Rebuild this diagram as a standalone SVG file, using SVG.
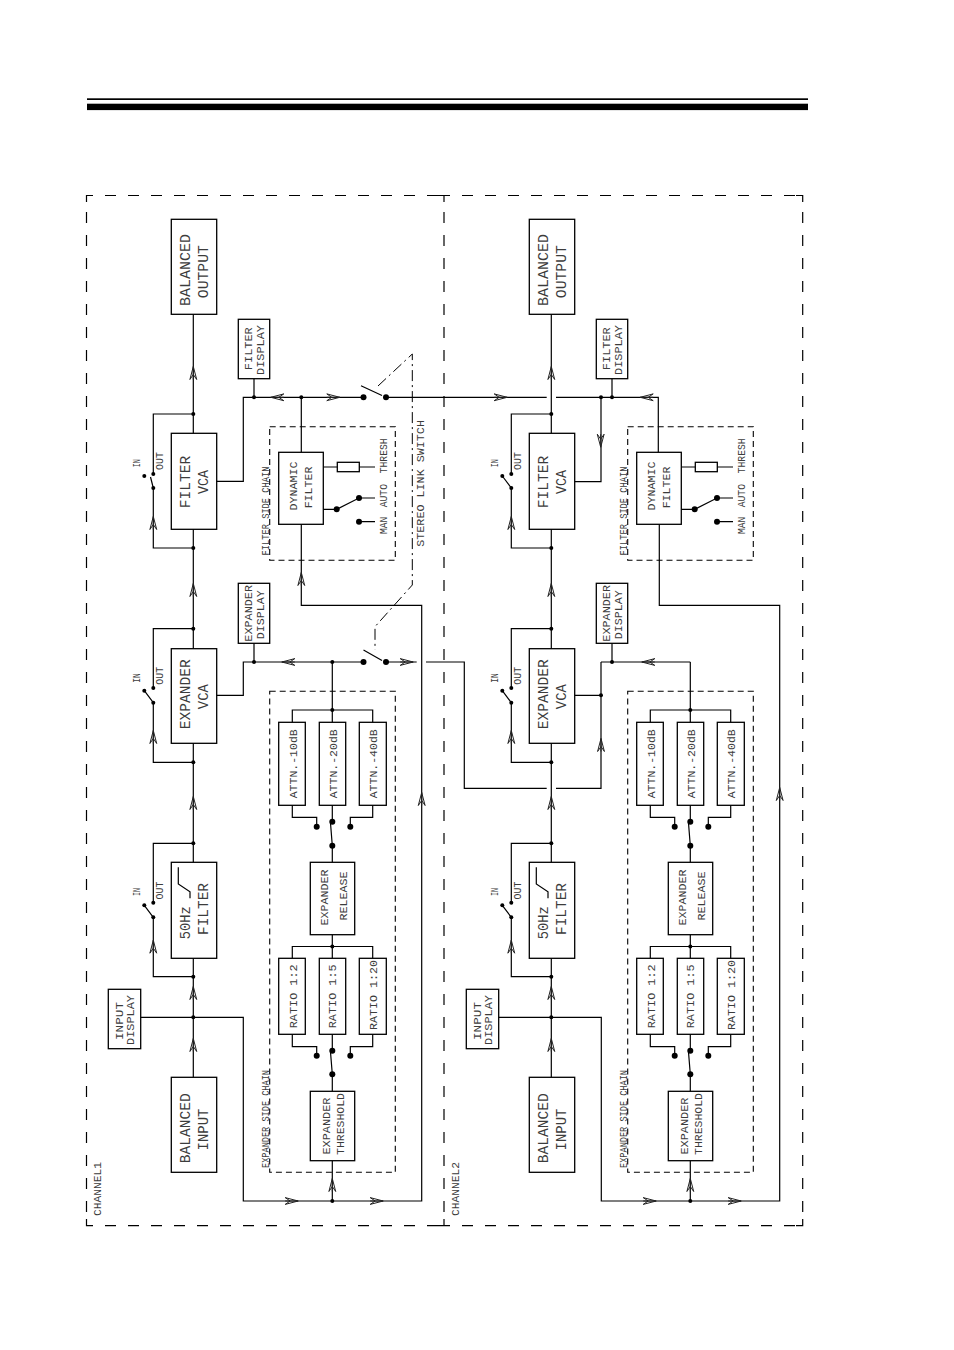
<svg xmlns="http://www.w3.org/2000/svg" width="954" height="1350" viewBox="0 0 954 1350">
<style>
text{font-family:"Liberation Mono","DejaVu Sans Mono",monospace;fill:#3c3c3c;text-anchor:middle}
.l{font-size:15px}.m{font-size:11.5px}.s{font-size:10px}
.box{fill:none;stroke:#000;stroke-width:1.3}
.w{fill:none;stroke:#000;stroke-width:1.2}
.a{fill:none;stroke:#222;stroke-width:1}
.d{fill:#000}
.o{fill:none;stroke:#000;stroke-width:1.2;stroke-dasharray:11 12}
.i{fill:none;stroke:#000;stroke-width:1.1;stroke-dasharray:6 4}
.k{fill:none;stroke:#000;stroke-width:1;stroke-dasharray:11 4 2 4}
</style>
<defs>
<path id="arr" d="M0-6.5L-3.4 6.5L0 1.5L3.4 6.5ZM0-6.5V6.5"/>
</defs>
<g id="header"><rect x="87" y="98.3" width="721" height="1.7"/><rect x="87" y="103.7" width="721" height="6.4"/></g>
<g id="frames">
<path class="o" d="M105 195.5H444"/><path class="w" d="M93 195.5H86.5V202"/><path class="o" d="M86.5 212V1218"/><path class="w" d="M86.5 1219V1225.6H93"/><path class="o" d="M105 1225.6H444"/>
<path class="o" d="M444 212V1218"/><path class="w" d="M438 195.5H450M444 195.5V202M438 1225.6H450M444 1225.6V1219"/>
<path class="o" d="M462 195.5H795"/><path class="w" d="M796 195.5H802.7V202M802.7 1219V1225.6H796"/><path class="o" d="M802.7 212V1218"/><path class="o" d="M462 1225.6H795"/>
<text class="m" lengthAdjust="spacingAndGlyphs" transform="translate(100.7 1189) rotate(-90)" textLength="54">CHANNEL1</text>
<text class="m" lengthAdjust="spacingAndGlyphs" transform="translate(458.7 1189) rotate(-90)" textLength="54">CHANNEL2</text>
</g>
<g id="connectors">
<g id="ch1-wires">
<path class="w" d="M193.3 314.3V433.3M193.3 529.3V648.7M193.3 743.3V862.3M193.3 958.3V1077.3"/>
<path class="w" d="M193.3 414H153.3V474M153.3 488V548H193.3"/>
<path class="w" d="M193.3 628.7H153.3V688M153.3 702.7V762.3H193.3"/>
<path class="w" d="M193.3 843.3H153.3V902.7M153.3 917.3V976.7H193.3"/>
<path class="w" d="M153.3 488L150.5 477M153.3 702.7L144.3 690.7M153.3 917.3L144.3 905.3"/>
<path class="w" d="M216.7 481.3H243.3V397.3H363.3M254 397.3V378.7M301.3 397.3V452.3"/>
<path class="w" d="M216.7 695.3H243.3V662H363.3M254 662V643.3M332.3 662V722.3"/>
<path class="w" d="M386 397.3H546.7M556 397.3H658.3V452.3M386 662H416.7M426 662H464.3V788.3H546.7M556 788.3H601V662"/>
<path class="w" d="M361 385.7L382 395.5M363.5 650L382 660.5"/>
<path class="w" d="M140.7 1017.3H243.3V1201H421.7V605.3H301.3V524.3"/>
<path class="w" d="M332.3 1160.7V1201"/>
<path class="w" d="M292.3 722.3V710H372.7V722.3M292.3 805.3V817.3H316.7V826.7M332.3 805.3V821.7M372.7 805.3V817.3H350.3V826.7"/>
<path class="w" d="M330.5 823L332.3 845.7V862.3M332.3 934.7V958.3M292.3 958.3V946.5H372.7V958.3"/>
<path class="w" d="M292.3 1034.3V1046.7H316.7V1055.7M332.3 1034.3V1050.7M372.7 1034.3V1046.7H350.3V1055.7"/>
<path class="w" d="M330.5 1052L332.3 1074.3V1091.3"/>
<path class="w" d="M323.3 467H337.3M359.3 467H375M323.3 509.3H336.7L359 498H375M359 521.7H375"/>
<path class="k" d="M378 386L412.3 354V585L375 626.7V650"/>
</g>
<g id="ch2-wires" transform="translate(358 0)">
<path class="w" d="M193.3 314.3V433.3M193.3 529.3V648.7M193.3 743.3V862.3M193.3 958.3V1077.3"/>
<path class="w" d="M193.3 414H153.3V474M153.3 488V548H193.3"/>
<path class="w" d="M193.3 628.7H153.3V688M153.3 702.7V762.3H193.3"/>
<path class="w" d="M193.3 843.3H153.3V902.7M153.3 917.3V976.7H193.3"/>
<path class="w" d="M153.3 488L144.3 476M153.3 702.7L144.3 690.7M153.3 917.3L144.3 905.3"/>
<path class="w" d="M216.7 481.7H243V397.3M254 397.3V378.7"/>
<path class="w" d="M216.7 695.3H243M254 662V643.3M332.3 662V722.3M243 662H332.3"/>
<path class="w" d="M140.7 1017.3H243.3V1201H421.7V605.3H301.3V524.3"/>
<path class="w" d="M332.3 1160.7V1201"/>
<path class="w" d="M292.3 722.3V710H372.7V722.3M292.3 805.3V817.3H316.7V826.7M332.3 805.3V821.7M372.7 805.3V817.3H350.3V826.7"/>
<path class="w" d="M330.5 823L332.3 845.7V862.3M332.3 934.7V958.3M292.3 958.3V946.5H372.7V958.3"/>
<path class="w" d="M292.3 1034.3V1046.7H316.7V1055.7M332.3 1034.3V1050.7M372.7 1034.3V1046.7H350.3V1055.7"/>
<path class="w" d="M330.5 1052L332.3 1074.3V1091.3"/>
<path class="w" d="M323.3 467H337.3M359.3 467H375M323.3 509.3H336.7L359 498H375M359 521.7H375"/>
</g>
<g id="dots" class="d">
<circle cx="193.3" cy="414" r="2"/><circle cx="193.3" cy="548" r="2"/><circle cx="193.3" cy="628.7" r="2"/><circle cx="193.3" cy="762.3" r="2"/><circle cx="193.3" cy="843.3" r="2"/><circle cx="193.3" cy="976.7" r="2"/><circle cx="193.3" cy="1017.3" r="2"/>
<circle cx="153.3" cy="474" r="2"/><circle cx="153.3" cy="488" r="2"/><circle cx="144.3" cy="476" r="2"/>
<circle cx="153.3" cy="688" r="2"/><circle cx="153.3" cy="702.7" r="2"/><circle cx="144.3" cy="690.7" r="2"/>
<circle cx="153.3" cy="902.7" r="2"/><circle cx="153.3" cy="917.3" r="2"/><circle cx="144.3" cy="905.3" r="2"/>
<circle cx="254" cy="397.3" r="2"/><circle cx="301.3" cy="397.3" r="2"/><circle cx="254" cy="662" r="2"/><circle cx="332.3" cy="662" r="2"/><circle cx="332.3" cy="710" r="2"/><circle cx="332.3" cy="946.5" r="2"/><circle cx="332.3" cy="1201" r="2"/>
<circle cx="363.5" cy="397.3" r="3"/><circle cx="386" cy="397.3" r="3"/><circle cx="363.5" cy="662" r="3"/><circle cx="386" cy="662" r="3"/>
<circle cx="336.7" cy="509.3" r="3"/><circle cx="359" cy="498" r="3"/><circle cx="359" cy="521.7" r="3"/>
<circle cx="316.7" cy="826.7" r="3"/><circle cx="332.3" cy="821.7" r="3"/><circle cx="350.3" cy="826.7" r="3"/><circle cx="332.3" cy="845.7" r="3"/>
<circle cx="316.7" cy="1055.7" r="3"/><circle cx="332.3" cy="1050.7" r="3"/><circle cx="350.3" cy="1055.7" r="3"/><circle cx="332.3" cy="1074.3" r="3"/>
<g transform="translate(358 0)">
<circle cx="193.3" cy="414" r="2"/><circle cx="193.3" cy="548" r="2"/><circle cx="193.3" cy="628.7" r="2"/><circle cx="193.3" cy="762.3" r="2"/><circle cx="193.3" cy="843.3" r="2"/><circle cx="193.3" cy="976.7" r="2"/><circle cx="193.3" cy="1017.3" r="2"/>
<circle cx="153.3" cy="474" r="2"/><circle cx="153.3" cy="488" r="2"/><circle cx="144.3" cy="476" r="2"/>
<circle cx="153.3" cy="688" r="2"/><circle cx="153.3" cy="702.7" r="2"/><circle cx="144.3" cy="690.7" r="2"/>
<circle cx="153.3" cy="902.7" r="2"/><circle cx="153.3" cy="917.3" r="2"/><circle cx="144.3" cy="905.3" r="2"/>
<circle cx="243" cy="397.3" r="2"/><circle cx="254" cy="397.3" r="2"/><circle cx="243" cy="695.3" r="2"/><circle cx="254" cy="662" r="2"/><circle cx="332.3" cy="710" r="2"/><circle cx="332.3" cy="946.5" r="2"/><circle cx="332.3" cy="1201" r="2"/>
<circle cx="336.7" cy="509.3" r="3"/><circle cx="359" cy="498" r="3"/><circle cx="359" cy="521.7" r="3"/>
<circle cx="316.7" cy="826.7" r="3"/><circle cx="332.3" cy="821.7" r="3"/><circle cx="350.3" cy="826.7" r="3"/><circle cx="332.3" cy="845.7" r="3"/>
<circle cx="316.7" cy="1055.7" r="3"/><circle cx="332.3" cy="1050.7" r="3"/><circle cx="350.3" cy="1055.7" r="3"/><circle cx="332.3" cy="1074.3" r="3"/>
</g>
</g>
<g id="arrows" class="a">
<use href="#arr" transform="translate(193.3 373)"/><use href="#arr" transform="translate(193.3 590)"/><use href="#arr" transform="translate(193.3 803)"/><use href="#arr" transform="translate(193.3 993)"/><use href="#arr" transform="translate(193.3 1045)"/>
<use href="#arr" transform="translate(153.3 523)"/><use href="#arr" transform="translate(153.3 737)"/><use href="#arr" transform="translate(153.3 946.7)"/>
<use href="#arr" transform="translate(277.3 397.3) rotate(-90)"/><use href="#arr" transform="translate(333.3 397.3) rotate(90)"/><use href="#arr" transform="translate(288.3 662) rotate(-90)"/><use href="#arr" transform="translate(406.7 662) rotate(90)"/>
<use href="#arr" transform="translate(301.3 579)"/><use href="#arr" transform="translate(421.7 799)"/><use href="#arr" transform="translate(332.3 1185)"/>
<use href="#arr" transform="translate(291.7 1201) rotate(90)"/><use href="#arr" transform="translate(376.7 1201) rotate(90)"/>
<use href="#arr" transform="translate(500.7 397.3) rotate(90)"/><use href="#arr" transform="translate(600.7 440.7) rotate(180)"/><use href="#arr" transform="translate(601 745)"/><use href="#arr" transform="translate(646.7 397.3) rotate(-90)"/><use href="#arr" transform="translate(648.3 662) rotate(-90)"/>
<use href="#arr" transform="translate(551.3 373)"/><use href="#arr" transform="translate(551.3 590)"/><use href="#arr" transform="translate(551.3 803)"/><use href="#arr" transform="translate(551.3 993)"/><use href="#arr" transform="translate(551.3 1045)"/>
<use href="#arr" transform="translate(511.3 523)"/><use href="#arr" transform="translate(511.3 737)"/><use href="#arr" transform="translate(511.3 946.7)"/>
<use href="#arr" transform="translate(779.7 794)"/><use href="#arr" transform="translate(690.3 1185)"/><use href="#arr" transform="translate(649.7 1201) rotate(90)"/><use href="#arr" transform="translate(734.7 1201) rotate(90)"/>
</g>
<g id="stereo-label"><text class="m" lengthAdjust="spacingAndGlyphs" transform="translate(424 483.4) rotate(-90)" textLength="126.7">STEREO LINK SWITCH</text></g>
</g>
<g id="ch1-balanced-output"><rect class="box" x="171.3" y="219.3" width="45.4" height="95"/><text class="l" lengthAdjust="spacingAndGlyphs" transform="translate(190 270) rotate(-90)" textLength="72">BALANCED</text><text class="l" lengthAdjust="spacingAndGlyphs" transform="translate(208.3 271.7) rotate(-90)" textLength="53">OUTPUT</text></g>
<g id="ch1-filter-display"><rect class="box" x="238.3" y="319.3" width="31.4" height="59.4"/><text class="m" lengthAdjust="spacingAndGlyphs" transform="translate(252.4 348.7) rotate(-90)" textLength="43">FILTER</text><text class="m" lengthAdjust="spacingAndGlyphs" transform="translate(264 350) rotate(-90)" textLength="50">DISPLAY</text></g>
<g id="ch1-filter-vca"><rect class="box" x="171.3" y="433.3" width="45.4" height="96"/><text class="l" lengthAdjust="spacingAndGlyphs" transform="translate(190 482) rotate(-90)" textLength="52.6">FILTER</text><text class="l" lengthAdjust="spacingAndGlyphs" transform="translate(208.3 482) rotate(-90)" textLength="24">VCA</text></g>
<g id="ch1-filter-switch"><text class="s" lengthAdjust="spacingAndGlyphs" transform="translate(140 463.3) rotate(-90)" textLength="8">IN</text><text class="s" lengthAdjust="spacingAndGlyphs" transform="translate(162.7 461) rotate(-90)" textLength="18">OUT</text></g>
<g id="ch1-expander-display"><rect class="box" x="238.3" y="583.3" width="31.4" height="60"/><text class="m" lengthAdjust="spacingAndGlyphs" transform="translate(252.4 613.3) rotate(-90)" textLength="56.7">EXPANDER</text><text class="m" lengthAdjust="spacingAndGlyphs" transform="translate(264 614.7) rotate(-90)" textLength="49">DISPLAY</text></g>
<g id="ch1-expander-vca"><rect class="box" x="171.3" y="648.7" width="45.4" height="94.6"/><text class="l" lengthAdjust="spacingAndGlyphs" transform="translate(190 694.3) rotate(-90)" textLength="70">EXPANDER</text><text class="l" lengthAdjust="spacingAndGlyphs" transform="translate(208.3 696.7) rotate(-90)" textLength="25">VCA</text></g>
<g id="ch1-expander-switch"><text class="s" lengthAdjust="spacingAndGlyphs" transform="translate(140 678) rotate(-90)" textLength="9.4">IN</text><text class="s" lengthAdjust="spacingAndGlyphs" transform="translate(162.7 675.8) rotate(-90)" textLength="18">OUT</text></g>
<g id="ch1-50hz-filter"><rect class="box" x="171.3" y="862.3" width="45.4" height="96"/><path class="w" d="M178.3 867.3V884L190 891.7V898.3"/><text class="l" lengthAdjust="spacingAndGlyphs" transform="translate(190 922.7) rotate(-90)" textLength="33">50Hz</text><text class="l" lengthAdjust="spacingAndGlyphs" transform="translate(208.3 909) rotate(-90)" textLength="52">FILTER</text></g>
<g id="ch1-50hz-switch"><text class="s" lengthAdjust="spacingAndGlyphs" transform="translate(140 892) rotate(-90)" textLength="8">IN</text><text class="s" lengthAdjust="spacingAndGlyphs" transform="translate(162.7 890.5) rotate(-90)" textLength="18">OUT</text></g>
<g id="ch1-input-display"><rect class="box" x="108.3" y="989.3" width="32.4" height="59.4"/><text class="m" lengthAdjust="spacingAndGlyphs" transform="translate(122.7 1021) rotate(-90)" textLength="38">INPUT</text><text class="m" lengthAdjust="spacingAndGlyphs" transform="translate(134 1020) rotate(-90)" textLength="50">DISPLAY</text></g>
<g id="ch1-balanced-input"><rect class="box" x="171.3" y="1077.3" width="45.4" height="95"/><text class="l" lengthAdjust="spacingAndGlyphs" transform="translate(190 1128.3) rotate(-90)" textLength="70">BALANCED</text><text class="l" lengthAdjust="spacingAndGlyphs" transform="translate(208.3 1129.5) rotate(-90)" textLength="42">INPUT</text></g>
<g id="ch1-filter-side-chain"><rect class="i" x="269.7" y="426.7" width="125.6" height="133.6"/><text class="s" lengthAdjust="spacingAndGlyphs" transform="translate(269 511) rotate(-90)" textLength="89">FILTER SIDE CHAIN</text></g>
<g id="ch1-dynamic-filter"><rect class="box" x="278.7" y="452.3" width="44.6" height="72"/><text class="m" lengthAdjust="spacingAndGlyphs" transform="translate(297 486) rotate(-90)" textLength="49">DYNAMIC</text><text class="m" lengthAdjust="spacingAndGlyphs" transform="translate(312 487.5) rotate(-90)" textLength="41.7">FILTER</text></g>
<g id="ch1-thresh-resistor"><rect class="box" x="337.3" y="462.3" width="22" height="9.4"/><text class="s" lengthAdjust="spacingAndGlyphs" transform="translate(386.7 455.8) rotate(-90)" textLength="35">THRESH</text><text class="s" lengthAdjust="spacingAndGlyphs" transform="translate(386.7 495.7) rotate(-90)" textLength="23.3">AUTO</text><text class="s" lengthAdjust="spacingAndGlyphs" transform="translate(386.7 525.3) rotate(-90)" textLength="17.3">MAN</text></g>
<g id="ch1-expander-side-chain"><rect class="i" x="269.7" y="691.3" width="125.6" height="481"/><text class="s" lengthAdjust="spacingAndGlyphs" transform="translate(269 1119) rotate(-90)" textLength="98">EXPANDER SIDE CHAIN</text></g>
<g id="ch1-attn-10"><rect class="box" x="278.7" y="722.3" width="26.6" height="83"/><text class="m" lengthAdjust="spacingAndGlyphs" transform="translate(296.5 763.8) rotate(-90)" textLength="69">ATTN.-10dB</text></g>
<g id="ch1-attn-20"><rect class="box" x="319.3" y="722.3" width="26.4" height="83"/><text class="m" lengthAdjust="spacingAndGlyphs" transform="translate(336.7 763.8) rotate(-90)" textLength="69">ATTN.-20dB</text></g>
<g id="ch1-attn-40"><rect class="box" x="359.3" y="722.3" width="27" height="83"/><text class="m" lengthAdjust="spacingAndGlyphs" transform="translate(377 763.8) rotate(-90)" textLength="69">ATTN.-40dB</text></g>
<g id="ch1-expander-release"><rect class="box" x="310.3" y="862.3" width="44.4" height="72.4"/><text class="m" lengthAdjust="spacingAndGlyphs" transform="translate(328 897.5) rotate(-90)" textLength="56">EXPANDER</text><text class="m" lengthAdjust="spacingAndGlyphs" transform="translate(346.7 896) rotate(-90)" textLength="49">RELEASE</text></g>
<g id="ch1-ratio-2"><rect class="box" x="278.7" y="958.3" width="26.6" height="76"/><text class="m" lengthAdjust="spacingAndGlyphs" transform="translate(296.5 996.3) rotate(-90)" textLength="64">RATIO 1:2</text></g>
<g id="ch1-ratio-5"><rect class="box" x="319.3" y="958.3" width="26.4" height="76"/><text class="m" lengthAdjust="spacingAndGlyphs" transform="translate(335.7 996.3) rotate(-90)" textLength="64">RATIO 1:5</text></g>
<g id="ch1-ratio-20"><rect class="box" x="359.3" y="958.3" width="27" height="76"/><text class="m" lengthAdjust="spacingAndGlyphs" transform="translate(377 995) rotate(-90)" textLength="70">RATIO 1:20</text></g>
<g id="ch1-expander-threshold"><rect class="box" x="310.3" y="1091.3" width="44.4" height="69.4"/><text class="m" lengthAdjust="spacingAndGlyphs" transform="translate(330.3 1126) rotate(-90)" textLength="57">EXPANDER</text><text class="m" lengthAdjust="spacingAndGlyphs" transform="translate(344 1124) rotate(-90)" textLength="62">THRESHOLD</text></g>
<g id="ch2-balanced-output" transform="translate(358 0)"><rect class="box" x="171.3" y="219.3" width="45.4" height="95"/><text class="l" lengthAdjust="spacingAndGlyphs" transform="translate(190 270) rotate(-90)" textLength="72">BALANCED</text><text class="l" lengthAdjust="spacingAndGlyphs" transform="translate(208.3 271.7) rotate(-90)" textLength="53">OUTPUT</text></g>
<g id="ch2-filter-display" transform="translate(358 0)"><rect class="box" x="238.3" y="319.3" width="31.4" height="59.4"/><text class="m" lengthAdjust="spacingAndGlyphs" transform="translate(252.4 348.7) rotate(-90)" textLength="43">FILTER</text><text class="m" lengthAdjust="spacingAndGlyphs" transform="translate(264 350) rotate(-90)" textLength="50">DISPLAY</text></g>
<g id="ch2-filter-vca" transform="translate(358 0)"><rect class="box" x="171.3" y="433.3" width="45.4" height="96"/><text class="l" lengthAdjust="spacingAndGlyphs" transform="translate(190 482) rotate(-90)" textLength="52.6">FILTER</text><text class="l" lengthAdjust="spacingAndGlyphs" transform="translate(208.3 482) rotate(-90)" textLength="24">VCA</text></g>
<g id="ch2-filter-switch" transform="translate(358 0)"><text class="s" lengthAdjust="spacingAndGlyphs" transform="translate(140 463.3) rotate(-90)" textLength="8">IN</text><text class="s" lengthAdjust="spacingAndGlyphs" transform="translate(162.7 461) rotate(-90)" textLength="18">OUT</text></g>
<g id="ch2-expander-display" transform="translate(358 0)"><rect class="box" x="238.3" y="583.3" width="31.4" height="60"/><text class="m" lengthAdjust="spacingAndGlyphs" transform="translate(252.4 613.3) rotate(-90)" textLength="56.7">EXPANDER</text><text class="m" lengthAdjust="spacingAndGlyphs" transform="translate(264 614.7) rotate(-90)" textLength="49">DISPLAY</text></g>
<g id="ch2-expander-vca" transform="translate(358 0)"><rect class="box" x="171.3" y="648.7" width="45.4" height="94.6"/><text class="l" lengthAdjust="spacingAndGlyphs" transform="translate(190 694.3) rotate(-90)" textLength="70">EXPANDER</text><text class="l" lengthAdjust="spacingAndGlyphs" transform="translate(208.3 696.7) rotate(-90)" textLength="25">VCA</text></g>
<g id="ch2-expander-switch" transform="translate(358 0)"><text class="s" lengthAdjust="spacingAndGlyphs" transform="translate(140 678) rotate(-90)" textLength="9.4">IN</text><text class="s" lengthAdjust="spacingAndGlyphs" transform="translate(162.7 675.8) rotate(-90)" textLength="18">OUT</text></g>
<g id="ch2-50hz-filter" transform="translate(358 0)"><rect class="box" x="171.3" y="862.3" width="45.4" height="96"/><path class="w" d="M178.3 867.3V884L190 891.7V898.3"/><text class="l" lengthAdjust="spacingAndGlyphs" transform="translate(190 922.7) rotate(-90)" textLength="33">50Hz</text><text class="l" lengthAdjust="spacingAndGlyphs" transform="translate(208.3 909) rotate(-90)" textLength="52">FILTER</text></g>
<g id="ch2-50hz-switch" transform="translate(358 0)"><text class="s" lengthAdjust="spacingAndGlyphs" transform="translate(140 892) rotate(-90)" textLength="8">IN</text><text class="s" lengthAdjust="spacingAndGlyphs" transform="translate(162.7 890.5) rotate(-90)" textLength="18">OUT</text></g>
<g id="ch2-input-display" transform="translate(358 0)"><rect class="box" x="108.3" y="989.3" width="32.4" height="59.4"/><text class="m" lengthAdjust="spacingAndGlyphs" transform="translate(122.7 1021) rotate(-90)" textLength="38">INPUT</text><text class="m" lengthAdjust="spacingAndGlyphs" transform="translate(134 1020) rotate(-90)" textLength="50">DISPLAY</text></g>
<g id="ch2-balanced-input" transform="translate(358 0)"><rect class="box" x="171.3" y="1077.3" width="45.4" height="95"/><text class="l" lengthAdjust="spacingAndGlyphs" transform="translate(190 1128.3) rotate(-90)" textLength="70">BALANCED</text><text class="l" lengthAdjust="spacingAndGlyphs" transform="translate(208.3 1129.5) rotate(-90)" textLength="42">INPUT</text></g>
<g id="ch2-filter-side-chain" transform="translate(358 0)"><rect class="i" x="269.7" y="426.7" width="125.6" height="133.6"/><text class="s" lengthAdjust="spacingAndGlyphs" transform="translate(269 511) rotate(-90)" textLength="89">FILTER SIDE CHAIN</text></g>
<g id="ch2-dynamic-filter" transform="translate(358 0)"><rect class="box" x="278.7" y="452.3" width="44.6" height="72"/><text class="m" lengthAdjust="spacingAndGlyphs" transform="translate(297 486) rotate(-90)" textLength="49">DYNAMIC</text><text class="m" lengthAdjust="spacingAndGlyphs" transform="translate(312 487.5) rotate(-90)" textLength="41.7">FILTER</text></g>
<g id="ch2-thresh-resistor" transform="translate(358 0)"><rect class="box" x="337.3" y="462.3" width="22" height="9.4"/><text class="s" lengthAdjust="spacingAndGlyphs" transform="translate(386.7 455.8) rotate(-90)" textLength="35">THRESH</text><text class="s" lengthAdjust="spacingAndGlyphs" transform="translate(386.7 495.7) rotate(-90)" textLength="23.3">AUTO</text><text class="s" lengthAdjust="spacingAndGlyphs" transform="translate(386.7 525.3) rotate(-90)" textLength="17.3">MAN</text></g>
<g id="ch2-expander-side-chain" transform="translate(358 0)"><rect class="i" x="269.7" y="691.3" width="125.6" height="481"/><text class="s" lengthAdjust="spacingAndGlyphs" transform="translate(269 1119) rotate(-90)" textLength="98">EXPANDER SIDE CHAIN</text></g>
<g id="ch2-attn-10" transform="translate(358 0)"><rect class="box" x="278.7" y="722.3" width="26.6" height="83"/><text class="m" lengthAdjust="spacingAndGlyphs" transform="translate(296.5 763.8) rotate(-90)" textLength="69">ATTN.-10dB</text></g>
<g id="ch2-attn-20" transform="translate(358 0)"><rect class="box" x="319.3" y="722.3" width="26.4" height="83"/><text class="m" lengthAdjust="spacingAndGlyphs" transform="translate(336.7 763.8) rotate(-90)" textLength="69">ATTN.-20dB</text></g>
<g id="ch2-attn-40" transform="translate(358 0)"><rect class="box" x="359.3" y="722.3" width="27" height="83"/><text class="m" lengthAdjust="spacingAndGlyphs" transform="translate(377 763.8) rotate(-90)" textLength="69">ATTN.-40dB</text></g>
<g id="ch2-expander-release" transform="translate(358 0)"><rect class="box" x="310.3" y="862.3" width="44.4" height="72.4"/><text class="m" lengthAdjust="spacingAndGlyphs" transform="translate(328 897.5) rotate(-90)" textLength="56">EXPANDER</text><text class="m" lengthAdjust="spacingAndGlyphs" transform="translate(346.7 896) rotate(-90)" textLength="49">RELEASE</text></g>
<g id="ch2-ratio-2" transform="translate(358 0)"><rect class="box" x="278.7" y="958.3" width="26.6" height="76"/><text class="m" lengthAdjust="spacingAndGlyphs" transform="translate(296.5 996.3) rotate(-90)" textLength="64">RATIO 1:2</text></g>
<g id="ch2-ratio-5" transform="translate(358 0)"><rect class="box" x="319.3" y="958.3" width="26.4" height="76"/><text class="m" lengthAdjust="spacingAndGlyphs" transform="translate(335.7 996.3) rotate(-90)" textLength="64">RATIO 1:5</text></g>
<g id="ch2-ratio-20" transform="translate(358 0)"><rect class="box" x="359.3" y="958.3" width="27" height="76"/><text class="m" lengthAdjust="spacingAndGlyphs" transform="translate(377 995) rotate(-90)" textLength="70">RATIO 1:20</text></g>
<g id="ch2-expander-threshold" transform="translate(358 0)"><rect class="box" x="310.3" y="1091.3" width="44.4" height="69.4"/><text class="m" lengthAdjust="spacingAndGlyphs" transform="translate(330.3 1126) rotate(-90)" textLength="57">EXPANDER</text><text class="m" lengthAdjust="spacingAndGlyphs" transform="translate(344 1124) rotate(-90)" textLength="62">THRESHOLD</text></g>
</svg>
